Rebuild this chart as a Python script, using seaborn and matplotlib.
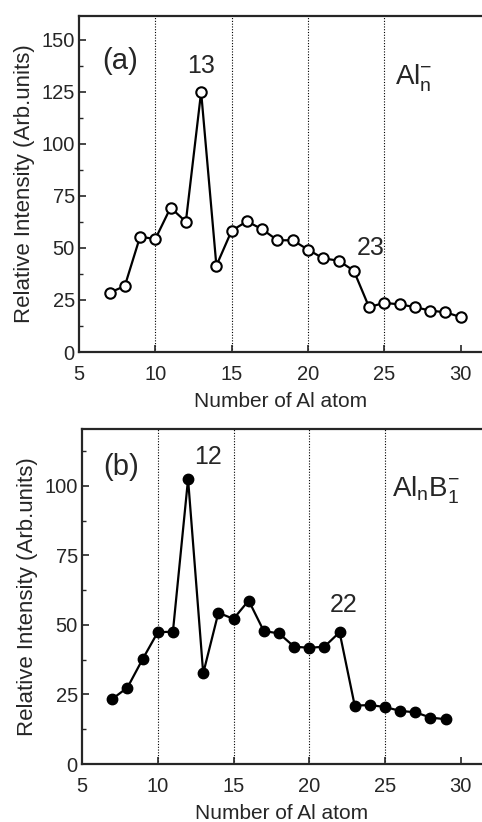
import numpy as np
import pandas as pd
import seaborn as sns
import matplotlib
matplotlib.use("Agg")
import matplotlib.pyplot as plt

sns.set_style("ticks")
plt.rcParams['font.family'] = ['Liberation Sans', 'DejaVu Sans']
plt.rcParams['mathtext.fontset'] = 'custom'
plt.rcParams['mathtext.rm'] = 'Liberation Sans'
plt.rcParams['mathtext.it'] = 'Liberation Sans'

# Panel (a): Al_n^-
n_a = [7, 8, 9, 10, 11, 12, 13, 14, 15, 16, 17, 18, 19, 20, 21, 22, 23, 24, 25, 26, 27, 28, 29, 30]
int_a = [28.5, 31.7, 55.4, 54.3, 69.4, 62.6, 125, 41.5, 58.3, 62.8, 59, 53.7, 53.7, 49.2, 45, 43.9, 39.1,
         21.6, 23.6, 22.9, 21.6, 19.9, 19.1, 16.8]
# Panel (b): Al_nB_1^-
n_b = [7, 8, 9, 10, 11, 12, 13, 14, 15, 16, 17, 18, 19, 20, 21, 22, 23, 24, 25, 26, 27, 28, 29]
int_b = [23.4, 27.5, 37.7, 47.4, 47.6, 102.5, 32.6, 54.4, 52.2, 58.8, 47.8, 47, 42.2, 41.8, 42.2, 47.4,
         21, 21.2, 20.5, 19.1, 18.6, 16.7, 16.1]

x_ticks = [5, 10, 15, 20, 25, 30]
grid_x = [10, 15, 20, 25]
y_ticks_a = [0, 25, 50, 75, 100, 125, 150]
y_ticks_b = [0, 25, 50, 75, 100]

W, H = 482, 822
fig = plt.figure(figsize=(W / 100, H / 100), dpi=100)
ax_a = fig.add_axes([79 / W, 1 - 352 / H, 1 - 79 / W, (352 - 16) / H])
ax_b = fig.add_axes([82 / W, 1 - 764 / H, 1 - 82 / W, (764 - 429) / H])

df_a = pd.DataFrame({"n": n_a, "I": int_a})
df_b = pd.DataFrame({"n": n_b, "I": int_b})

sns.lineplot(data=df_a, x="n", y="I", ax=ax_a, color="black", lw=1.6, marker="o",
             markersize=7.5, markerfacecolor="white", markeredgecolor="black", markeredgewidth=1.5)
sns.lineplot(data=df_b, x="n", y="I", ax=ax_b, color="black", lw=1.6, marker="o",
             markersize=7.5, markerfacecolor="black", markeredgecolor="black", markeredgewidth=1.0)

for ax, yt, ylim in [(ax_a, y_ticks_a, 161.5), (ax_b, y_ticks_b, 120.5)]:
    ax.set_xlim(5, 31.4)
    ax.set_ylim(0, ylim)
    ax.set_xticks(x_ticks)
    ax.set_yticks(yt)
    ax.set_yticks([v + 12.5 for v in yt if v + 12.5 < ylim], minor=True)
    for gx in grid_x:
        ax.axvline(gx, color="black", lw=0.8, ls=(0, (1, 1.5)), zorder=0)
    ax.tick_params(axis="both", which="major", direction="in", length=5, width=1.2, labelsize=14.5)
    ax.tick_params(axis="x", which="major", pad=9)
    ax.tick_params(axis="y", which="major", pad=3)
    ax.tick_params(axis="y", which="minor", direction="in", length=3, width=1.0)
    ax.spines["right"].set_visible(False)
    for s in ["left", "bottom", "top"]:
        ax.spines[s].set_linewidth(1.6)
    ax.set_xlabel("Number of Al atom", fontsize=15, labelpad=6)
    ax.set_ylabel("Relative Intensity (Arb.units)", fontsize=16, labelpad=5)

ax_a.text(7.7, 140, "(a)", fontsize=21, ha="center", va="center")
ax_a.text(13.0, 137.5, "13", fontsize=18, ha="center", va="center")
ax_a.text(24.1, 50, "23", fontsize=18, ha="center", va="center")
ax_a.text(26.9, 131.7, r"$\mathrm{Al}_{\mathrm{n}}^{-}$", fontsize=20, ha="center", va="center")

ax_b.text(7.6, 106.8, "(b)", fontsize=21, ha="center", va="center")
ax_b.text(13.3, 110.4, "12", fontsize=18, ha="center", va="center")
ax_b.text(22.26, 57.2, "22", fontsize=18, ha="center", va="center")
ax_b.text(27.7, 98.6, r"$\mathrm{Al}_{\mathrm{n}}\mathrm{B}_{1}^{-}$", fontsize=20, ha="center", va="center")

fig.savefig("out.png", dpi=100)
